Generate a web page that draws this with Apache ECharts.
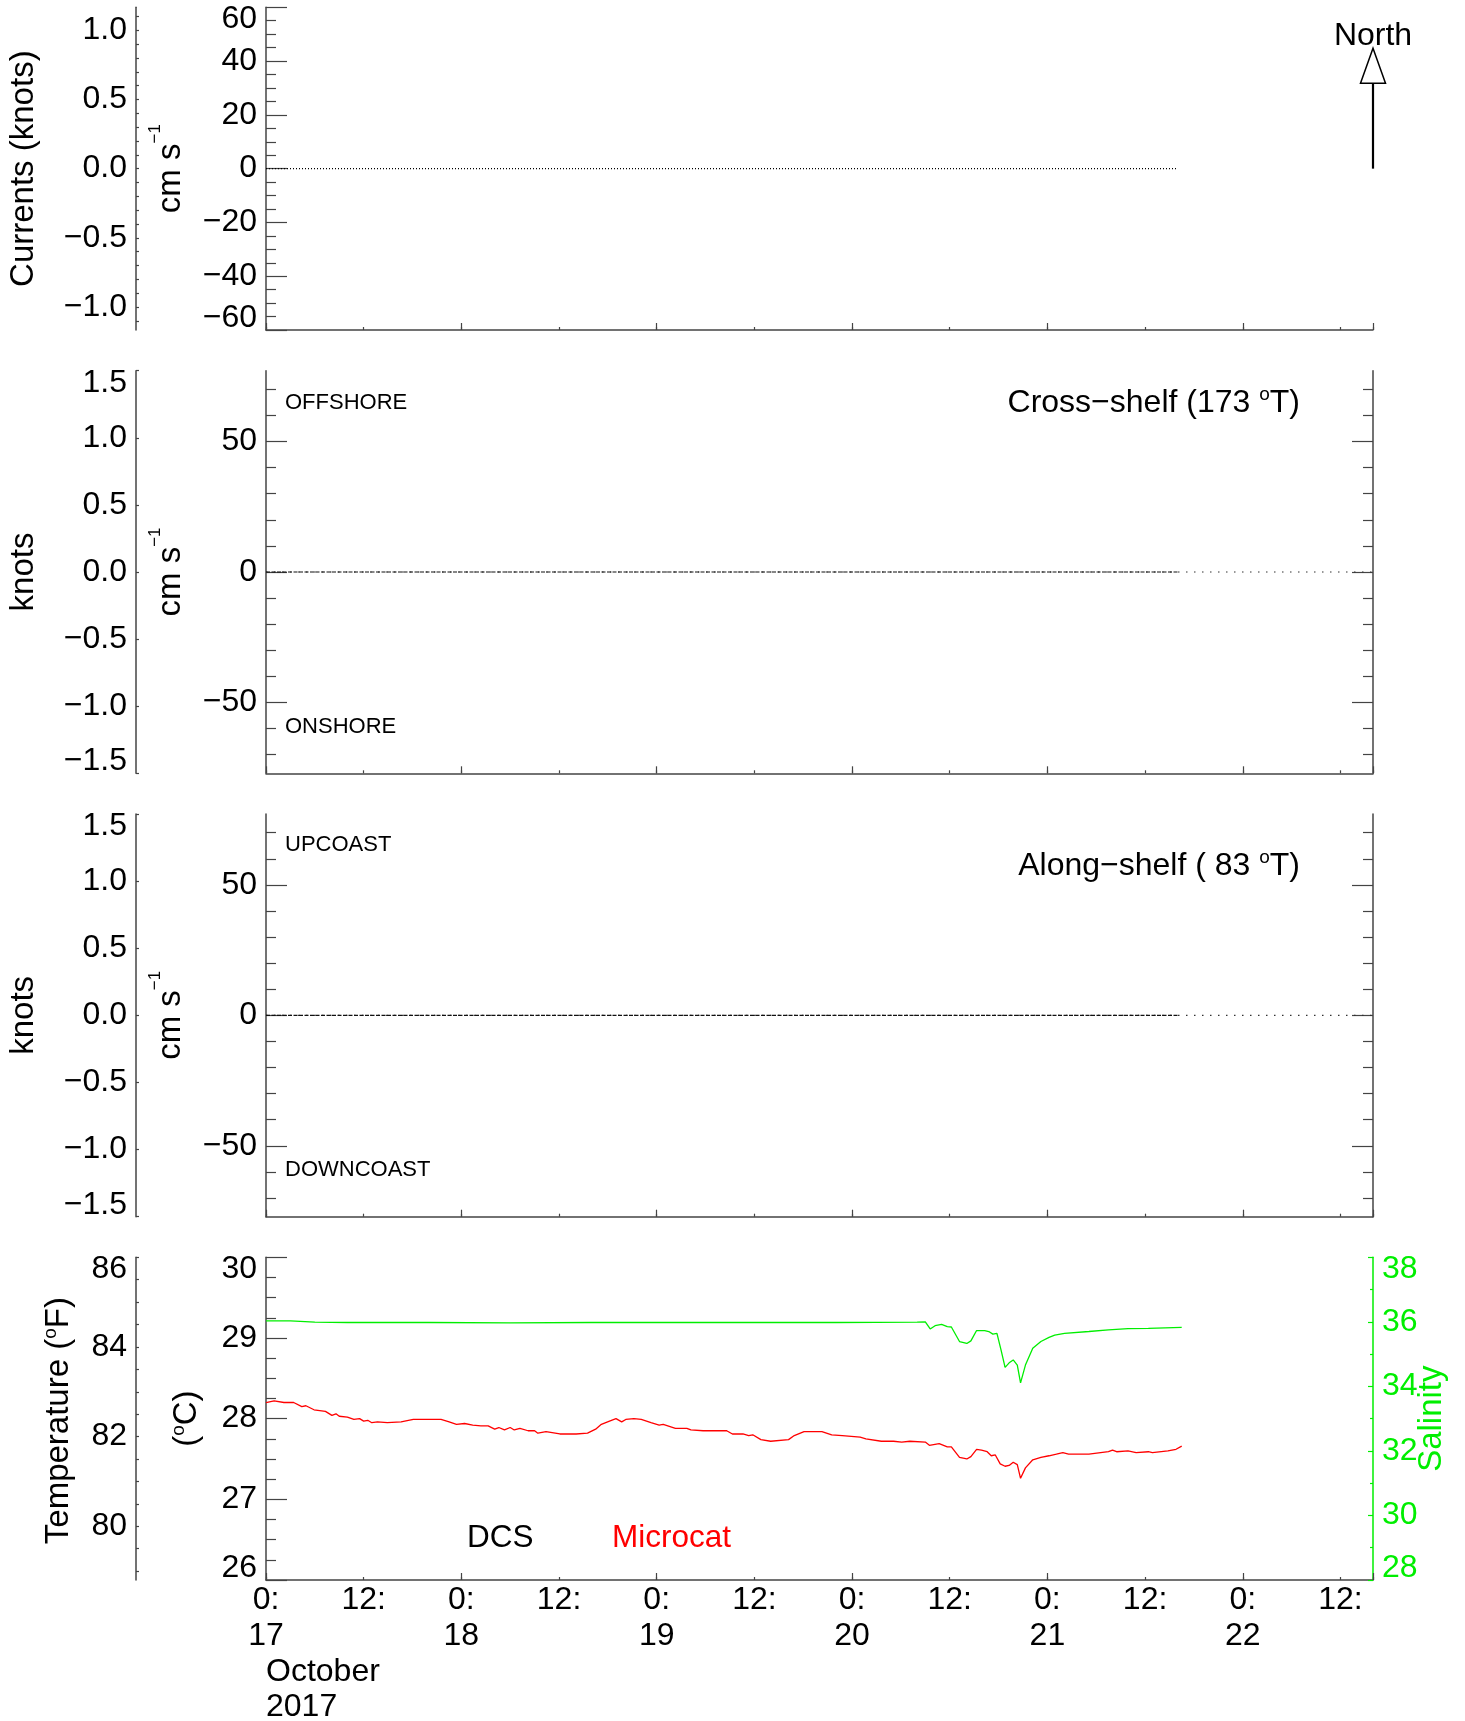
<!DOCTYPE html>
<html><head><meta charset="utf-8">
<script src="https://cdn.jsdelivr.net/npm/echarts@6/dist/echarts.min.js"></script>
<style>html,body{margin:0;padding:0;background:#fff}#c{width:1465px;height:1721px}</style>
</head><body><div id="c"></div>
<script>
// ---------------- data ----------------
const startDay = 17;            // x = hours since 17 October 2017 00:00
const xMaxHours = 136;
const currentHours = [0, 112];
const currentSpeed = [0, 0];
const crossShelf = [0, 0];
const alongShelf = [0, 0];
const zeroRefHours = [0, 136];
const zeroRef = [0, 0];

const tempHours = [0,1.0,2.2,3.4,4.4,4.9,5.9,7.3,8.1,8.6,
  9.0,10.0,10.8,11.5,12.0,12.5,13.0,13.7,14.9,16.6,
  18.1,19.5,21.5,22.5,23.4,24.4,25.4,26.4,27.3,28.1,
  28.6,29.3,30.0,30.5,31.2,32.2,33.0,33.4,34.4,36.1,
  38.1,39.5,40.5,41.2,42.2,43.0,43.7,44.2,45.2,46.1,
  47.3,48.3,48.8,50.3,51.7,52.2,53.7,55.1,56.6,57.3,
  58.6,59.3,59.8,60.8,62.0,64.2,64.9,66.1,68.3,69.5,
  70.8,73.0,73.7,75.6,77.1,78.1,79.1,81.0,81.5,82.7,
  83.7,84.2,85.2,86.1,86.6,87.3,87.9,88.6,89.1,89.6,
  90.2,90.8,91.3,91.8,92.3,92.7,93.3,94.2,95.2,96.2,
  97.1,97.9,98.6,101.1,103.5,104.0,104.5,105.9,106.9,108.4,
  108.9,110.8,111.8,112.5];
const tempC = [28.20,28.22,28.20,28.20,28.15,28.16,28.11,28.09,28.04,28.06,
  28.03,28.02,27.99,28.00,27.97,27.98,27.95,27.96,27.95,27.96,
  27.99,27.99,27.99,27.96,27.93,27.94,27.92,27.91,27.91,27.87,
  27.89,27.86,27.89,27.86,27.88,27.85,27.85,27.82,27.84,27.81,
  27.81,27.82,27.87,27.93,27.97,28.00,27.96,27.99,28.00,27.99,
  27.95,27.92,27.93,27.88,27.88,27.86,27.85,27.85,27.85,27.81,
  27.81,27.79,27.80,27.74,27.72,27.74,27.79,27.84,27.84,27.80,
  27.79,27.77,27.75,27.72,27.72,27.71,27.72,27.71,27.67,27.69,
  27.65,27.65,27.52,27.50,27.53,27.62,27.61,27.59,27.54,27.55,
  27.44,27.41,27.42,27.46,27.43,27.26,27.39,27.49,27.52,27.54,
  27.56,27.58,27.56,27.56,27.59,27.61,27.59,27.60,27.58,27.59,
  27.58,27.60,27.62,27.66];

const salHours = [0,3,6,10,20,30,40,50,60,70,
  80,81.0,81.6,82.2,83.0,83.7,84.2,85.2,86.1,86.6,
  87.3,88.3,88.8,89.3,89.8,90.3,90.8,91.3,91.8,92.3,
  92.7,93.3,94.2,95.2,96.2,96.9,98.1,101.1,103.5,105.9,
  108.4,112.5];
const salinity = [36.03,36.03,35.99,35.98,35.98,35.97,35.98,35.98,35.98,35.98,
  35.99,36.00,35.78,35.88,35.92,35.85,35.84,35.39,35.33,35.41,
  35.73,35.73,35.70,35.62,35.64,35.13,34.59,34.73,34.82,34.66,
  34.11,34.66,35.18,35.39,35.52,35.59,35.64,35.70,35.75,35.79,
  35.80,35.83];

// tick / label values
const knotLabels0 = [-1.0,-0.5,0,0.5,1.0];
const knotTicks0 = [-1.1,-1.0,-0.9,-0.8,-0.7,-0.6,-0.5,-0.4,-0.3,-0.2,-0.1,0,0.1,0.2,0.3,0.4,0.5,0.6,0.7,0.8,0.9,1.0,1.1];
const cmMajor = [-50,0,50];
const cmMinor = [-70,-60,-40,-30,-20,-10,10,20,30,40,60,70];
const fLabels = [80,82,84,86];
const fTicks = [79,79.5,80,80.5,81,81.5,82,82.5,83,83.5,84,84.5,85,85.5,86];

// ---------------- style / layout ----------------
const FF = '"Liberation Sans", Arial, Helvetica, sans-serif';
const BIG = 32, TITLE = 33, SMALL = 22;
const KNOT = 51.4444;          // cm/s per knot
const MINUS = '\u2212';
const AX = '#444';
const GREEN = '#00ee00', RED = '#ff0000';
const GL = 266, GR = 92;
const P = [{top:7.3,h:322.7},{top:370.7,h:402.6},{top:814,h:402.7},{top:1257.3,h:322.7}];
const cmMax = 1.5 * KNOT;

function zip(a,b){ return a.map((v,i)=>[v,b[i]]); }
function edgeRich(color){ return {
  t:{fontSize:BIG,fontFamily:FF,color:color,padding:[24,0,0,0]},
  b:{fontSize:BIG,fontFamily:FF,color:color,padding:[0,0,24,0]} }; }
function fmtVal(v,d,min,max){
  let s=(Math.abs(v)<1e-9?0:v).toFixed(d).replace('-',MINUS);
  if(max!=null && Math.abs(v-max)<1e-6) return '{t|'+s+'}';
  if(min!=null && Math.abs(v-min)<1e-6) return '{b|'+s+'}';
  return s;
}
function yAx(o){
  const c = o.color||AX;
  const ax = {
    type:'value', gridIndex:o.g, position:o.pos||'left', offset:o.offset||0,
    min:o.min, max:o.max,
    splitLine:{show:false}, minorSplitLine:{show:false},
    axisLine:{show:o.line!==false, onZero:false, lineStyle:{color:c,width:1.5}},
    axisTick:{show:true, inside:true, length:o.tick, lineStyle:{color:c,width:1.2}},
    minorTick:{show:!!o.minor, splitNumber:o.minor||5, length:o.minorLen||0, lineStyle:{color:c,width:1.2}},
    axisLabel: o.label ? {show:true, margin:9, fontSize:BIG, fontFamily:FF, color:o.labelColor||'#000',
      formatter:o.label, rich:edgeRich(o.labelColor||'#000')} : {show:false}
  };
  if(o.interval!=null) ax.interval=o.interval;
  if(o.tickValues) ax.axisTick.customValues=o.tickValues;
  if(o.labelValues) ax.axisLabel.customValues=o.labelValues;
  return ax;
}
function xAxes(g, labels){
  const main = {
    type:'value', gridIndex:g, position:'bottom', min:0, max:xMaxHours, interval:12,
    splitLine:{show:false},
    axisLine:{show:true,onZero:false,lineStyle:{color:AX,width:1.5}},
    axisTick:{show:true,inside:true,length:3,lineStyle:{color:AX,width:1.2}},
    axisLabel: labels ? {show:true, margin:2, fontSize:BIG, fontFamily:FF, color:'#000', lineHeight:36,
      formatter:v=> (v%24===0 ? '0:\n'+(startDay+v/24) : (v%12===0 ? '12:' : ''))} : {show:false}
  };
  const big = {
    type:'value', gridIndex:g, position:'bottom', min:0, max:xMaxHours, interval:24,
    splitLine:{show:false}, axisLine:{show:false,onZero:false},
    axisTick:{show:true,inside:true,length:7,lineStyle:{color:AX,width:1.2}},
    axisLabel:{show:false}
  };
  return [main,big];
}

const xAxis = [].concat(xAxes(0,false), xAxes(1,false), xAxes(2,false), xAxes(3,true));
function currentPanelAxes(g){
  return [
    yAx({g, min:-cmMax, max:cmMax, tick:21, tickValues:cmMajor, labelValues:cmMajor, label:v=>fmtVal(v,0)}),
    yAx({g, min:-cmMax, max:cmMax, tick:10, tickValues:cmMinor, line:false}),
    yAx({g, pos:'right', min:-cmMax, max:cmMax, tick:21, tickValues:cmMajor}),
    yAx({g, pos:'right', min:-cmMax, max:cmMax, tick:10, tickValues:cmMinor, line:false}),
    yAx({g, offset:130, min:-1.5, max:1.5, interval:0.5, tick:3, label:v=>fmtVal(v,1,-1.5,1.5)})
  ];
}
const yAxis = [
  yAx({g:0, min:-60, max:60, interval:20, tick:21, minor:4, minorLen:10, label:v=>fmtVal(v,0,-60,60)}),
  yAx({g:0, offset:130, min:-60/KNOT, max:60/KNOT, tick:3, tickValues:knotTicks0, labelValues:knotLabels0, label:v=>fmtVal(v,1)})
].concat(currentPanelAxes(1), currentPanelAxes(2), [
  yAx({g:3, min:26, max:30, interval:1, tick:21, minor:4, minorLen:10, label:v=>fmtVal(v,0,26,30)}),
  yAx({g:3, offset:130, min:26*1.8+32, max:30*1.8+32, tick:3, tickValues:fTicks, labelValues:fLabels, label:v=>fmtVal(v,0,null,86)}),
  yAx({g:3, pos:'right', min:28, max:38, interval:2, tick:5, minor:2, minorLen:3, color:GREEN, labelColor:GREEN, label:v=>fmtVal(v,0,28,38)})
]);

function lineSeries(xi, yi, data, color, width, type){
  return {type:'line', xAxisIndex:xi, yAxisIndex:yi, data, symbol:'none', showSymbol:false, silent:true,
    animation:false, lineStyle:{color, width, type}};
}
const series = [
  lineSeries(0, 0, zip(currentHours,currentSpeed), '#000', 1.2, [1,2]),
  lineSeries(2, 2, zip(zeroRefHours,zeroRef), '#333', 1.2, [1.5,6.5]),
  lineSeries(2, 2, zip(currentHours,crossShelf), '#111', 1.1, [4,1.5]),
  lineSeries(4, 7, zip(zeroRefHours,zeroRef), '#333', 1.2, [1.5,6.5]),
  lineSeries(4, 7, zip(currentHours,alongShelf), '#111', 1.1, [4,1.5]),
  lineSeries(6, 12, zip(tempHours,tempC), RED, 1.3, 'solid'),
  lineSeries(6, 14, zip(salHours,salinity), GREEN, 1.3, 'solid')
];

const chart = echarts.init(document.getElementById('c'), null, {renderer:'canvas'});
chart.setOption({
  animation:false,
  backgroundColor:'#fff',
  textStyle:{fontFamily:FF},
  grid: P.map(p=>({left:GL, right:GR, top:p.top, height:p.h, containLabel:false})),
  xAxis, yAxis, series
});

// ---------------- annotations ----------------
function txt(x,y,text,o){
  o=o||{};
  const st = {text, fontSize:o.size||BIG, fontFamily:FF, fill:o.color||'#000',
    textAlign:o.align||'center', textVerticalAlign:'middle'};
  if(o.rich) st.rich=o.rich;
  return {type:'text', x, y, rotation:o.rot||0, silent:true, style:st};
}
function supRich(size, lh, supSize, color){
  color=color||'#000';
  return { n:{fontSize:size,fontFamily:FF,fill:color,color:color,lineHeight:lh},
           s:{fontSize:supSize,fontFamily:FF,fill:color,color:color,lineHeight:supSize,verticalAlign:'top'} };
}
const ROT = Math.PI/2;
const cmText = '{n|cm s}{s|'+MINUS+'1}';
const cmRich = supRich(TITLE,48,17);
const degRichT = supRich(TITLE,36,19);
const degRich = supRich(BIG,35,19);
const mid = p=>p.top+p.h/2;
const base = chart.convertToPixel({xAxisIndex:0, yAxisIndex:0}, [xMaxHours, 0]);
const bx = base[0], by = base[1];

const graphic = [
  txt(24, mid(P[0]), 'Currents (knots)', {rot:ROT, size:TITLE}),
  txt(24, mid(P[1]), 'knots', {rot:ROT, size:TITLE}),
  txt(24, mid(P[2]), 'knots', {rot:ROT, size:TITLE}),
  txt(59, mid(P[3])+2, '{n|Temperature (}{s|o}{n|F)}', {rot:ROT, rich:degRichT}),
  txt(171, mid(P[0]), cmText, {rot:ROT, rich:cmRich}),
  txt(171, mid(P[1]), cmText, {rot:ROT, rich:cmRich}),
  txt(171, mid(P[2]), cmText, {rot:ROT, rich:cmRich}),
  txt(187, mid(P[3]), '{n|(}{s|o}{n|C)}', {rot:ROT, rich:degRichT}),
  txt(1432, mid(P[3]), 'Salinity', {rot:ROT, color:GREEN, size:TITLE}),
  txt(285, P[1].top+32, 'OFFSHORE', {size:SMALL, align:'left'}),
  txt(285, P[1].top+356, 'ONSHORE', {size:SMALL, align:'left'}),
  txt(285, P[2].top+31, 'UPCOAST', {size:SMALL, align:'left'}),
  txt(285, P[2].top+356, 'DOWNCOAST', {size:SMALL, align:'left'}),
  txt(1300, P[1].top+32, '{n|Cross'+MINUS+'shelf (173 }{s|o}{n|T)}', {align:'right', rich:degRich}),
  txt(1300, P[2].top+52, '{n|Along'+MINUS+'shelf ( 83 }{s|o}{n|T)}', {align:'right', rich:degRich}),
  txt(467, P[3].top+281.5, 'DCS', {align:'left', size:31.5}),
  txt(612, P[3].top+281.5, 'Microcat', {align:'left', color:RED, size:31.5}),
  txt(GL, 1671.7, 'October', {align:'left'}),
  txt(GL, 1706.7, '2017', {align:'left'}),
  txt(bx, by-132, 'North'),
  {type:'line', silent:true, shape:{x1:bx, y1:by, x2:bx, y2:by-85.4}, style:{stroke:'#000', lineWidth:2.2}},
  {type:'polygon', silent:true, shape:{points:[[bx-12.5,by-85.4],[bx+12.5,by-85.4],[bx,by-120.4]]},
    style:{stroke:'#000', fill:'#fff', lineWidth:1.5}}
];
chart.setOption({graphic});
</script>
</body></html>
